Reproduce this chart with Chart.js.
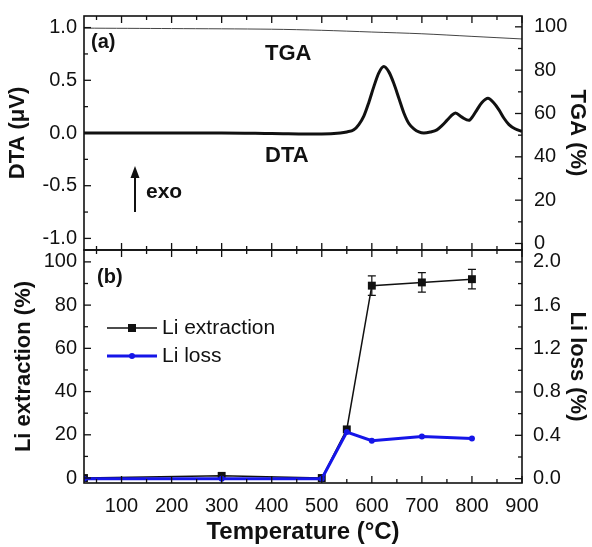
<!DOCTYPE html>
<html>
<head>
<meta charset="utf-8">
<script src="https://cdn.jsdelivr.net/npm/chart.js@4.4.1/dist/chart.umd.min.js"></script>
<style>
  html, body { margin: 0; padding: 0; background: #fff; }
  #wrap { position: relative; width: 592px; height: 547px; }
  .panel { position: absolute; left: 0; width: 592px; }
  #panelA { top: 0; height: 262px; }
  #panelB { top: 240px; height: 307px; }
</style>
</head>
<body>
<div id="wrap">
  <div class="panel" id="panelA"><canvas id="dtaChart"></canvas></div>
  <div class="panel" id="panelB"><canvas id="liChart"></canvas></div>
</div>
<script>
// (a) DTA / TGA curves
const dtaTemp = [25, 100, 200, 300, 400, 500, 537, 550, 564, 574, 584, 594, 604, 614, 624, 634, 644, 654, 664, 674, 684, 694, 704, 717, 730, 740, 750, 758, 767, 780, 794, 802, 810, 820, 832, 843, 854, 864, 874, 886, 900];
const dtaValue = [0, 0, 0, 0, -0.005, -0.01, 0, 0.01, 0.03, 0.08, 0.16, 0.29, 0.44, 0.57, 0.63, 0.58, 0.47, 0.33, 0.19, 0.09, 0.04, 0.01, 0, 0.01, 0.03, 0.07, 0.12, 0.16, 0.19, 0.15, 0.12, 0.16, 0.22, 0.29, 0.33, 0.29, 0.22, 0.14, 0.08, 0.04, 0.015];
const tgaTemp = [25, 200, 400, 500, 600, 700, 800, 900];
const tgaValue = [99.4, 99.2, 98.9, 98.4, 97.6, 96.8, 95.6, 94.4];

// (b) Li extraction / Li loss
const liTemp = [25, 300, 500, 550, 600, 700, 800];
const liExtraction = [0, 1, 0, 22.5, 89, 90.5, 92];
const liExtractionErr = [0, 0, 0, 0, 4.5, 4.5, 4.5];
const liLoss = [0, 0, 0, 0.43, 0.35, 0.39, 0.37];

Chart.defaults.font.family = "'Liberation Sans', Arial, sans-serif";
Chart.defaults.color = '#111';
Chart.defaults.animation = false;

const tickFont = { size: 20 };
const titleFont = { size: 22, weight: 'bold' };
const noGrid = { display: false, drawTicks: false };

function tickList(from, to, step) {
    const out = [];
    for (let v = from; v <= to + step / 2; v += step) out.push({ value: Math.round(v * 1000) / 1000 });
    return out;
}

function isMajor(v, step) {
    return Math.abs(v / step - Math.round(v / step)) < 1e-6;
}

function points(xs, ys) {
    return xs.map((x, i) => ({ x: x, y: ys[i] }));
}

// inward tick marks + box frame, like the origin plot
const innerTicks = {
    id: 'innerTicks',
    afterDraw(chart, args, opts) {
        const ctx = chart.ctx;
        const a = chart.chartArea;
        ctx.save();
        ctx.strokeStyle = '#111';
        ctx.lineWidth = 1.3;
        Object.values(chart.scales).forEach(s => {
            const major = opts.major[s.id];
            s.ticks.forEach(t => {
                const len = isMajor(t.value, major) ? 7 : 4;
                const p = s.getPixelForValue(t.value);
                ctx.beginPath();
                if (s.isHorizontal()) {
                    ctx.moveTo(p, a.bottom); ctx.lineTo(p, a.bottom - len);
                    ctx.moveTo(p, a.top); ctx.lineTo(p, a.top + len);
                } else if (s.position === 'left') {
                    ctx.moveTo(a.left, p); ctx.lineTo(a.left + len, p);
                } else {
                    ctx.moveTo(a.right, p); ctx.lineTo(a.right - len, p);
                }
                ctx.stroke();
            });
        });
        ctx.lineWidth = 1.6;
        ctx.strokeRect(a.left, a.top, a.width, a.height);
        ctx.restore();
    }
};

const notesA = {
    id: 'notesA',
    afterDraw(chart) {
        const ctx = chart.ctx;
        ctx.save();
        ctx.fillStyle = '#111';
        ctx.textBaseline = 'middle';
        ctx.font = "bold 20px 'Liberation Sans', Arial, sans-serif";
        ctx.fillText('(a)', 91, 42);
        ctx.font = "bold 22px 'Liberation Sans', Arial, sans-serif";
        ctx.fillText('TGA', 265, 54);
        ctx.fillText('DTA', 265, 156);
        ctx.font = "bold 21px 'Liberation Sans', Arial, sans-serif";
        ctx.fillText('exo', 146, 192);
        // arrow
        ctx.strokeStyle = '#111';
        ctx.lineWidth = 2;
        ctx.beginPath();
        ctx.moveTo(135, 212); ctx.lineTo(135, 174);
        ctx.stroke();
        ctx.beginPath();
        ctx.moveTo(135, 166); ctx.lineTo(130.5, 178); ctx.lineTo(139.5, 178);
        ctx.closePath();
        ctx.fill();
        ctx.restore();
    }
};

const errorBars = {
    id: 'errorBars',
    afterDatasetsDraw(chart) {
        const ctx = chart.ctx;
        const meta = chart.getDatasetMeta(1);
        const ys = chart.scales.y;
        ctx.save();
        ctx.strokeStyle = '#111';
        ctx.lineWidth = 1.2;
        meta.data.forEach((pt, i) => {
            const e = liExtractionErr[i];
            if (!e) return;
            const top = ys.getPixelForValue(liExtraction[i] + e);
            const bot = ys.getPixelForValue(liExtraction[i] - e);
            ctx.beginPath();
            ctx.moveTo(pt.x, top); ctx.lineTo(pt.x, bot);
            ctx.moveTo(pt.x - 4, top); ctx.lineTo(pt.x + 4, top);
            ctx.moveTo(pt.x - 4, bot); ctx.lineTo(pt.x + 4, bot);
            ctx.stroke();
        });
        ctx.restore();
    }
};

const notesB = {
    id: 'notesB',
    afterDraw(chart) {
        const ctx = chart.ctx;
        ctx.save();
        ctx.fillStyle = '#111';
        ctx.textBaseline = 'middle';
        ctx.font = "bold 20px 'Liberation Sans', Arial, sans-serif";
        ctx.fillText('(b)', 97, 37);
        // legend
        const rows = [
            { label: 'Li extraction', ds: chart.data.datasets[1], y: 88 },
            { label: 'Li loss', ds: chart.data.datasets[0], y: 116 }
        ];
        rows.forEach(r => {
            ctx.strokeStyle = r.ds.borderColor;
            ctx.lineWidth = r.ds.borderWidth;
            ctx.beginPath();
            ctx.moveTo(107, r.y); ctx.lineTo(157, r.y);
            ctx.stroke();
            ctx.fillStyle = r.ds.pointBackgroundColor;
            if (r.ds.pointStyle === 'rect') {
                ctx.fillRect(128, r.y - 4, 8, 8);
            } else {
                ctx.beginPath();
                ctx.arc(132, r.y, 3, 0, Math.PI * 2);
                ctx.fill();
            }
            ctx.fillStyle = '#111';
            ctx.font = "21px 'Liberation Sans', Arial, sans-serif";
            ctx.fillText(r.label, 162, r.y);
        });
        ctx.restore();
    }
};

function fixWidth(w) {
    return s => { s.width = w; s.paddingTop = 0; s.paddingBottom = 0; };
}
function fixHeight(h) {
    return s => { s.height = h; s.paddingLeft = 0; s.paddingRight = 0; };
}

new Chart(document.getElementById('dtaChart'), {
    type: 'line',
    data: {
        datasets: [
            {
                label: 'DTA',
                data: points(dtaTemp, dtaValue),
                yAxisID: 'y',
                borderColor: '#111',
                borderWidth: 3,
                pointRadius: 0,
                cubicInterpolationMode: 'monotone'
            },
            {
                label: 'TGA',
                data: points(tgaTemp, tgaValue),
                yAxisID: 'y2',
                borderColor: '#444',
                borderWidth: 1,
                pointRadius: 0,
                tension: 0.3
            }
        ]
    },
    options: {
        responsive: true,
        maintainAspectRatio: false,
        layout: { padding: { top: 16, left: 0, right: 0, bottom: 0 } },
        plugins: {
            legend: { display: false },
            tooltip: { enabled: false },
            innerTicks: { major: { x: 100, y: 0.5, y2: 20 } }
        },
        scales: {
            x: {
                type: 'linear', min: 25, max: 900,
                afterBuildTicks: s => { s.ticks = tickList(50, 900, 50); },
                ticks: { display: false },
                grid: noGrid,
                border: { display: false },
                afterFit: fixHeight(12)
            },
            y: {
                position: 'left', min: -1.11, max: 1.11,
                afterBuildTicks: s => { s.ticks = tickList(-1, 1, 0.25); },
                ticks: { autoSkip: false, padding: 7, font: tickFont, callback: v => isMajor(v, 0.5) ? v.toFixed(1) : '' },
                grid: noGrid,
                border: { display: false },
                title: { display: true, text: 'DTA (μV)', font: titleFont, padding: { top: 5, bottom: 0 } },
                afterFit: fixWidth(84)
            },
            y2: {
                position: 'right', min: -3, max: 105,
                afterBuildTicks: s => { s.ticks = tickList(0, 100, 10); },
                ticks: { autoSkip: false, padding: 12, font: tickFont, callback: v => isMajor(v, 20) ? String(v) : '' },
                grid: noGrid,
                border: { display: false },
                title: { display: true, text: 'TGA (%)', font: titleFont, padding: { top: 2, bottom: 0 } },
                afterFit: fixWidth(70)
            }
        }
    },
    plugins: [innerTicks, notesA]
});

new Chart(document.getElementById('liChart'), {
    type: 'line',
    data: {
        datasets: [
            {
                label: 'Li loss',
                data: points(liTemp, liLoss),
                yAxisID: 'y2',
                borderColor: '#1515e8',
                backgroundColor: '#1515e8',
                pointBackgroundColor: '#1515e8',
                pointBorderWidth: 0,
                pointStyle: 'circle',
                pointRadius: 3,
                borderWidth: 3,
                tension: 0,
                order: 0
            },
            {
                label: 'Li extraction',
                data: points(liTemp, liExtraction),
                yAxisID: 'y',
                borderColor: '#111',
                backgroundColor: '#111',
                pointBackgroundColor: '#111',
                pointBorderWidth: 0,
                pointStyle: 'rect',
                pointRadius: 5.6,
                borderWidth: 1.5,
                tension: 0,
                order: 1
            }
        ]
    },
    options: {
        responsive: true,
        maintainAspectRatio: false,
        layout: { padding: { top: 10, left: 0, right: 0, bottom: 0 } },
        plugins: {
            legend: { display: false },
            tooltip: { enabled: false },
            innerTicks: { major: { x: 100, y: 20, y2: 0.4 } }
        },
        scales: {
            x: {
                type: 'linear', min: 25, max: 900,
                afterBuildTicks: s => { s.ticks = tickList(50, 900, 50); },
                ticks: { autoSkip: false, maxRotation: 0, padding: 11, font: tickFont, callback: v => isMajor(v, 100) ? String(v) : '' },
                grid: noGrid,
                border: { display: false },
                title: { display: true, text: 'Temperature (°C)', font: { size: 24, weight: 'bold' }, padding: { top: 0, bottom: 0 } },
                afterFit: fixHeight(64)
            },
            y: {
                position: 'left', min: -2.3, max: 105.5,
                afterBuildTicks: s => { s.ticks = tickList(0, 100, 10); },
                ticks: { autoSkip: false, padding: 7, font: tickFont, callback: v => isMajor(v, 20) ? String(v) : '' },
                grid: noGrid,
                border: { display: false },
                title: { display: true, text: 'Li extraction (%)', font: titleFont, padding: { top: 11, bottom: 0 } },
                afterFit: fixWidth(84)
            },
            y2: {
                position: 'right', min: -0.04, max: 2.11,
                afterBuildTicks: s => { s.ticks = tickList(0, 2, 0.2); },
                ticks: { autoSkip: false, padding: 11, font: tickFont, callback: v => isMajor(v, 0.4) ? v.toFixed(1) : '' },
                grid: noGrid,
                border: { display: false },
                title: { display: true, text: 'Li loss (%)', font: titleFont, padding: { top: 2, bottom: 0 } },
                afterFit: fixWidth(70)
            }
        }
    },
    plugins: [innerTicks, errorBars, notesB]
});
</script>
</body>
</html>
